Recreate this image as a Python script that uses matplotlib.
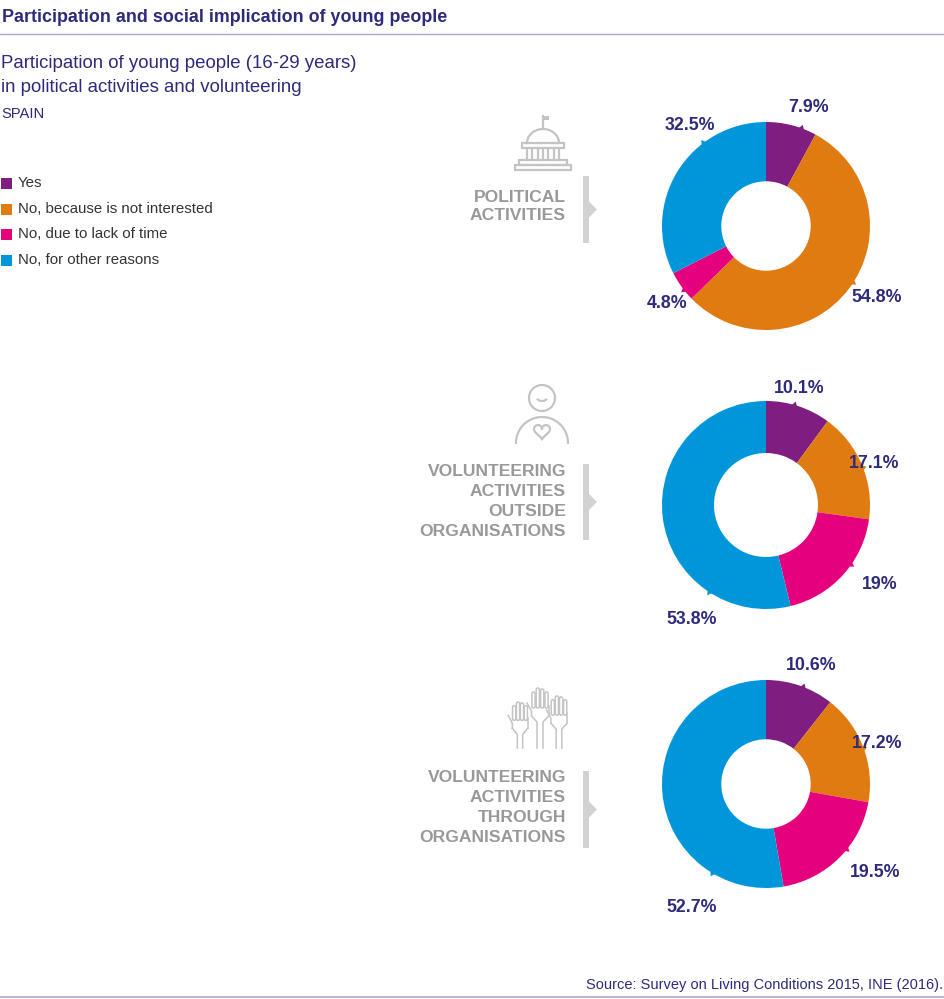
import numpy as np
import matplotlib
matplotlib.use("Agg")
import matplotlib.pyplot as plt
from matplotlib.patches import Rectangle, Polygon, FancyBboxPatch

plt.rcParams["font.family"] = ["Liberation Sans", "DejaVu Sans"]

# ---- data ---------------------------------------------------------------
categories = ["Yes", "No, because is not interested",
              "No, due to lack of time", "No, for other reasons"]
political = [7.9, 54.8, 4.8, 32.5]
vol_outside = [10.1, 17.1, 19.0, 53.8]
vol_through = [10.6, 17.2, 19.5, 52.7]
value_labels = [["7.9%", "54.8%", "4.8%", "32.5%"],
                ["10.1%", "17.1%", "19%", "53.8%"],
                ["10.6%", "17.2%", "19.5%", "52.7%"]]
panel_titles = [["POLITICAL", "ACTIVITIES"],
                ["VOLUNTEERING", "ACTIVITIES", "OUTSIDE", "ORGANISATIONS"],
                ["VOLUNTEERING", "ACTIVITIES", "THROUGH", "ORGANISATIONS"]]

# ---- style / layout -----------------------------------------------------
COLORS = ["#7f1d80", "#e07b12", "#e5007d", "#0096d9"]
NAVY = "#2e2a7c"
GREY_TXT = "#999999"
GREY_BAR = "#d2d2d2"
ICON = "#c4c4c4"
W, H = 945, 999
CX = 766
CENTERS_Y = [226, 505, 784]
R_PX = 104
HOLE = [0.43, 0.50, 0.43]
# label placement: (angle clockwise from 12 o'clock, distance in radii)
LABEL_POS = [[(20, 1.21), (123, 1.27), (232, 1.21), (323, 1.21)],
             [(16, 1.17), (69, 1.11), (125, 1.33), (213, 1.31)],
             [(21, 1.22), (70, 1.14), (129, 1.35), (211, 1.39)]]
TITLE_LINE_Y = [[197, 216], [471, 491, 511, 531], [777, 797, 817, 837]]
BAR_SPAN = [(176, 243), (464, 540), (771, 848)]

fig = plt.figure(figsize=(W / 100, H / 100), dpi=100)
bg = fig.add_axes([0, 0, 1, 1])
bg.set_xlim(0, W)
bg.set_ylim(H, 0)
bg.axis("off")

# ---- header -------------------------------------------------------------
bg.text(2, 18, "Participation and social implication of young people",
        fontsize=12.9, fontweight="bold", color=NAVY, va="center")
bg.plot([0, W], [34, 34], color="#aaa5cc", lw=1)
bg.text(1, 63, "Participation of young people (16-29 years)",
        fontsize=13.4, color=NAVY, va="center")
bg.text(1, 88, "in political activities and volunteering",
        fontsize=13.4, color=NAVY, va="center")
bg.text(1, 114, "SPAIN", fontsize=10.6, color=NAVY, va="center")

for i, (cat, col) in enumerate(zip(categories, COLORS)):
    y = [183, 209, 234, 260][i]
    bg.add_patch(Rectangle((1, y - 5.5), 11, 11, color=col, lw=0))
    bg.text(18, y, cat, fontsize=10.8, color="#333333", va="center")

bg.text(943, 985, "Source: Survey on Living Conditions 2015, INE (2016).",
        fontsize=10.5, color=NAVY, ha="right", va="center")
bg.plot([0, W], [997, 997], color="#aaa5cc", lw=1.2)

# ---- panel titles + arrow bars -----------------------------------------
for lines, ys, (b0, b1) in zip(panel_titles, TITLE_LINE_Y, BAR_SPAN):
    for txt, y in zip(lines, ys):
        bg.text(566, y, txt, fontsize=12.6, fontweight="bold",
                color=GREY_TXT, ha="right", va="center")
    bg.add_patch(Rectangle((583, b0), 6, b1 - b0, color=GREY_BAR, lw=0))
    m = (b0 + b1) / 2
    bg.add_patch(Polygon([(588, m - 9), (597, m), (588, m + 9)],
                         closed=True, color=GREY_BAR, lw=0))

# ---- icons ---------------------------------------------------------------
lw_i = 1.6
# capitol
bg.plot([543, 543], [116, 129], color=ICON, lw=lw_i)
bg.add_patch(Rectangle((543, 116), 6, 4, color=ICON, lw=0))
t = np.linspace(0, np.pi, 60)
bg.plot(543 + 16 * np.cos(t), 143 - 14 * np.sin(t), color=ICON, lw=lw_i)
bg.add_patch(Rectangle((522, 143), 42, 5, fill=False, ec=ICON, lw=lw_i))
for x in np.linspace(527, 559, 7):
    bg.plot([x, x], [149, 160], color=ICON, lw=lw_i)
bg.add_patch(Rectangle((519, 160), 48, 5, fill=False, ec=ICON, lw=lw_i))
bg.add_patch(Rectangle((515, 165), 56, 5, fill=False, ec=ICON, lw=lw_i))

# person with heart
t = np.linspace(0, 2 * np.pi, 80)
bg.plot(542 + 13 * np.cos(t), 398 + 13 * np.sin(t), color=ICON, lw=lw_i)
t = np.linspace(0.25 * np.pi, 0.75 * np.pi, 30)
bg.plot(542 + 6 * np.cos(t), 396 + 5 * np.sin(t), color=ICON, lw=lw_i)
t = np.linspace(0, np.pi, 60)
bg.plot(542 + 26 * np.cos(t), 443 - 26 * np.sin(t), color=ICON, lw=lw_i)
t = np.linspace(0, 2 * np.pi, 100)
hx = 16 * np.sin(t) ** 3
hy = 13 * np.cos(t) - 5 * np.cos(2 * t) - 2 * np.cos(3 * t) - np.cos(4 * t)
bg.plot(542 + 0.5 * hx, 431 - 0.5 * hy, color=ICON, lw=lw_i)

# raised hands
for hxc, top, scale in [(520, 702, 0.9), (540, 688, 1.0), (559, 696, 0.95)]:
    palm_top = top + 16 * scale
    for k, dx in enumerate([-6.5, -2.2, 2.2, 6.5]):
        ft = top + [4, 0, 1, 4][k] * scale
        bg.add_patch(FancyBboxPatch((hxc + dx * scale - 1.6, ft), 3.2,
                                    palm_top - ft + 4,
                                    boxstyle="round,pad=0,rounding_size=1.6",
                                    fill=False, ec=ICON, lw=1.1))
    bg.plot([hxc - 8.5 * scale, hxc - 8.5 * scale, hxc - 13 * scale],
            [palm_top + 12, palm_top + 7, palm_top - 1], color=ICON, lw=1.1)
    bg.plot([hxc + 8.5 * scale, hxc + 8.5 * scale], [palm_top + 2, palm_top + 12],
            color=ICON, lw=1.1)
    bg.plot([hxc - 8.5 * scale, hxc - 3 * scale, hxc - 3 * scale],
            [palm_top + 12, palm_top + 18, 748], color=ICON, lw=1.1)
    bg.plot([hxc + 8.5 * scale, hxc + 3 * scale, hxc + 3 * scale],
            [palm_top + 12, palm_top + 18, 748], color=ICON, lw=1.1)

# ---- donuts --------------------------------------------------------------
half = 160
lim = half / R_PX
for k, vals in enumerate([political, vol_outside, vol_through]):
    cy = CENTERS_Y[k]
    ax = fig.add_axes([(CX - half) / W, 1 - (cy + half) / H,
                       2 * half / W, 2 * half / H])
    ax.pie(vals, colors=COLORS, startangle=90, counterclock=False,
           radius=1, wedgeprops=dict(width=1 - HOLE[k], lw=0))
    ax.set_xlim(-lim, lim)
    ax.set_ylim(-lim, lim)
    ax.set_aspect("equal")
    ax.axis("off")

    bounds = np.cumsum([0] + list(vals)) / sum(vals) * 360
    for j, (ang, dist) in enumerate(LABEL_POS[k]):
        a = np.deg2rad(ang)
        ax.text(dist * np.sin(a), dist * np.cos(a), value_labels[k][j],
                fontsize=12.8, fontweight="bold", color=NAVY,
                ha="center", va="center")
        # small notch on the ring pointing at the label
        seg = np.searchsorted(bounds, ang, side="right") - 1
        seg = min(max(seg, 0), len(vals) - 1)
        d = np.deg2rad(1.6)
        pts = [(0.99 * np.sin(a - d), 0.99 * np.cos(a - d)),
               (1.035 * np.sin(a), 1.035 * np.cos(a)),
               (0.99 * np.sin(a + d), 0.99 * np.cos(a + d))]
        ax.add_patch(Polygon(pts, closed=True, color=COLORS[seg], lw=0))

fig.savefig("out.png", dpi=100)
